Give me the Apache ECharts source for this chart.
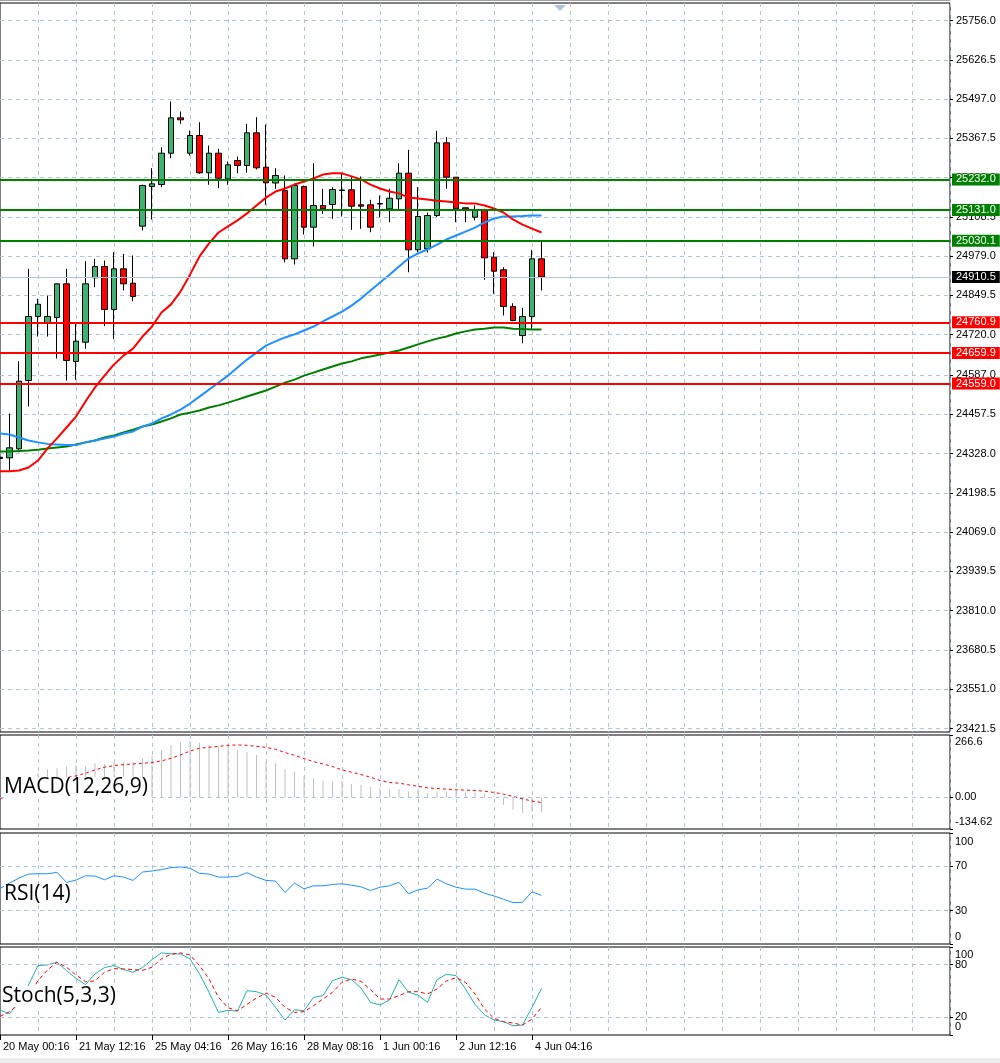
<!DOCTYPE html>
<html><head><meta charset="utf-8">
<script src="https://cdn.jsdelivr.net/npm/echarts@6/dist/echarts.min.js"></script>
<style>html,body{margin:0;padding:0;background:#fff}#c{width:1000px;height:1063px}</style>
</head><body><div id="c"></div>
<script>
// ---------- DATA (index 0 = partially visible bar before "20 May 00:16") ----------
const dateLabels = ['20 May 00:16','21 May 12:16','25 May 04:16','26 May 16:16','28 May 08:16','1 Jun 00:16','2 Jun 12:16','4 Jun 04:16'];
const yTickLabels = ['25756.0','25626.5','25497.0','25367.5','25238.0','25108.5','24979.0','24849.5','24720.0','24587.0','24457.5','24328.0','24198.5','24069.0','23939.5','23810.0','23680.5','23551.0','23421.5'];

const opens  = [24316,24314,24343.7,24568.9,24780,24757.9,24776.7,24887.8,24631.6,24695.2,24907.6,24944.8,24803,24937.2,24889.8,25077.7,25208.6,25215.2,25318.4,25435.1,25318.4,25376.8,25253.8,25318.4,25234,25294.3,25277.8,25385.7,25272.2,25220.1,25195.4,24970.2,25208.6,25074.4,25146,25149.3,25195.4,25197.7,25148.3,25148.3,25152.5,25135.1,25168,25252.5,24999.9,25003.2,25113,25352.7,25239.3,25138.4,25107.4,25129.5,24975.5,24933.9,24812.9,24717.3,24780,24970.2];
const closes = [24312,24347,24566.6,24780,24820.5,24780,24887.8,24634.9,24698.5,24887.8,24944.8,24803,24937.2,24887.8,24845.9,25211.9,25217.5,25318.4,25435.1,25428.5,25376.8,25253.8,25318.4,25236,25280.2,25277.8,25385.7,25270.3,25220.8,25244.9,24970.2,25211.9,25074.4,25146,25135.1,25198.7,25197,25143.7,25143.7,25074.4,25151,25170,25252.5,24999.9,25109.7,25113,25352.7,25239.3,25135.1,25133.8,25129.5,24973.5,24929.3,24812.9,24766.8,24780,24970.2,24910.5];
const highs  = [24322,24460,24632.6,24937.2,24838.3,24849.2,24888.8,24937.2,24757.9,24962.3,24970.2,24964.6,24992,24986.7,24981.1,25215.2,25268.9,25338.2,25488.9,25455.9,25393.3,25420.6,25343.8,25332.9,25291,25307.5,25415.3,25437.1,25413,25268.9,25244.9,25218.5,25211.9,25285.4,25201,25206.3,25250.5,25239.3,25241.6,25164.7,25178.9,25201,25285.4,25329.6,25206.3,25122.9,25392.3,25371.2,25239.3,25139.4,25146,25135.1,24992,24942.5,24823.8,24808.6,24999.9,25028.2];
const lows   = [24305,24272,24332.5,24483.2,24714,24714,24641.5,24568.9,24571.2,24673.4,24876.6,24748.6,24706.4,24865.7,24830.4,25063.5,25099.8,25206.3,25301.9,25415.3,25310.8,25250.5,25214.2,25203,25214.2,25252.5,25253.8,25264.7,25148.3,25201,24959,24951.4,25050.3,25010.8,25118.6,25102.1,25109.7,25065.8,25069.1,25057.9,25107.4,25090.9,25135.1,24926,24992,24991,25107.4,25201,25090.9,25090.9,25096.5,24901,24854.8,24783.3,24764.5,24691.9,24736.1,24865.7];

const maRed   = [24270,24270,24272,24282,24305,24345,24378,24414,24450,24500,24546,24585,24622,24651,24674,24714,24747,24793,24820,24862,24918,24978,25021,25057,25077,25097,25120,25146,25172,25192,25202,25215,25225,25235,25248,25252,25252,25242,25232,25215,25202,25192,25186,25172,25169,25166,25162,25159,25156,25153,25153,25146,25136,25123,25100,25083,25070,25057];
const maBlue  = [24394,24391,24381,24371,24365,24360,24358,24356,24356,24365,24371,24378,24384,24394,24401,24417,24427,24444,24457,24473,24493,24516,24539,24562,24585,24612,24638,24661,24684,24698,24711,24721,24734,24747,24764,24780,24796,24816,24839,24866,24892,24918,24945,24971,24988,25001,25017,25034,25047,25060,25073,25090,25103,25110,25110,25111,25113,25113];
const maGreen = [24335,24335,24336.5,24338,24341,24345,24348,24351,24358,24365,24371,24381,24388,24398,24407,24417,24424,24434,24444,24457,24463,24470,24480,24487,24496,24506,24516,24526,24536,24549,24562,24572,24585,24595,24605,24615,24625,24632,24642,24648,24655,24661,24668,24678,24688,24698,24707,24714,24724,24731,24737,24740,24744,24744,24740,24739,24737,24737];

const levelsGreen = [25232.0, 25131.0, 25030.1];
const levelsRed   = [24760.9, 24659.9, 24559.0];
const bidPrice    = 24910.5;

const macdHist   = [-3,8,30,62,103.5,120.5,124.8,131.9,137.5,134.7,146,143.2,148.9,150.3,150.3,167.3,177.3,202.8,224,235.4,242.5,234,224,217,219.8,200,192.8,181.5,153.1,146,120.5,110.6,89.3,82.2,72.3,68,72.3,56.7,53.9,44,39.7,35.5,35.5,25.5,35.5,18.4,25.5,25.5,25.5,21.3,21.3,15.6,7.1,-31.2,-52.5,-66.6,-59.6,-63.8];
const macdSignal = [-4,4,18,35,50,64,78,85,92,103.5,117.7,129,136,140,143,146,149,156,167,181.5,198.5,210,214,218,222.6,224,222.6,218,214,205.6,191.4,180,166,153,143,132,117.7,107.8,97.8,86.5,72.3,64,61,54,48,41,38,35.5,32.6,31.2,29.8,27,21.3,14.2,4.3,-5.7,-15.6,-21.3];
const macdTicks  = ['-134.62','0.00','266.6'];

const rsi = [50,54.9,59.4,63,63.3,63.3,64.5,55.5,57.6,61.5,61.2,57.9,61.5,60.3,57.3,64.8,65.8,67,68.8,69.4,68.2,63.6,63,60.3,60.3,60.9,64.2,60.3,57.3,56.7,46.4,54.9,49.7,52.4,52.4,53.6,54.2,53,51.5,48.2,51.2,52.4,55.5,45.2,48.8,50.3,58.5,54.2,51.2,49.4,49.4,45.8,43.3,40.3,37.3,37.6,47,43.9];
const rsiTicks = ['0','30','70','100'];

const stochMain   = [28.4,23.8,39,56.8,78.9,79.6,82.7,73.2,64.4,57.2,69.4,76.6,78.9,74.3,71.3,76.6,85.7,93.3,92.2,92.2,86.5,69.4,48.5,25.7,28,27.2,50.4,49.2,45.4,31.4,17,28.7,27.6,42.8,44.7,61.8,65.6,62.9,53.4,37.1,34.1,39.8,62.9,48.5,45.4,37.1,62.9,69,67.5,52.3,34.8,23,17,15.1,10.5,11.3,31.4,53];
const stochSignal = [21.1,26.5,34.8,44.7,61.8,73.9,82.7,77,68.2,60.6,61.4,71.3,75.4,75.1,74.3,73.5,77,86.5,91.8,93.3,91,78.9,63.7,42.8,31,27.6,34.8,42,47.7,42.8,31.4,25.7,26.5,33.3,40.9,48.5,59.9,63.7,61,51.5,40.9,40.9,44.7,49.2,49.2,46.6,52.3,61.4,65.2,59.9,46.6,29.5,18.9,15.1,13.6,11.3,18.1,31.4];
const stochTicksInner = ['20','80'];
const stochTicksOuter = ['0','100'];

// ---------- BUILD ----------
const SLOTS = 101; // visible bar slots including empty future area
const cats = Array.from({length: SLOTS}, (_, j) => (j % 8 === 0 && j / 8 < dateLabels.length) ? dateLabels[j / 8] : '');
const FONT = 'Liberation Sans';
const gridLine = {color: '#b0c4de', type: [4, 4], width: 1};
const LEFT = -2.2, RIGHT = 50;

function xAxisFor(gi, bottom) {
  return {
    type: 'category', gridIndex: gi, data: cats, boundaryGap: false,
    axisLine: {show: false},
    axisTick: bottom ? {show: true, interval: (j) => j % 8 === 0 && j / 8 < dateLabels.length, length: 5, lineStyle: {color: '#000'}} : {show: false},
    axisLabel: bottom ? {show: true, interval: 0, align: 'left', color: '#000', fontFamily: FONT, fontSize: 11, margin: 6, padding: [0, 0, 0, 3]} : {show: false},
    splitLine: {show: true, interval: (j) => j % 4 === 0 && j > 0, lineStyle: gridLine}
  };
}

function sideAxis(gi, min, max, tickStrs, padTop, padBot) {
  const vals = tickStrs.map(Number);
  return {
    type: 'value', gridIndex: gi, position: 'right', min: min, max: max,
    axisLine: {show: false},
    axisTick: {show: true, customValues: vals, length: 3, lineStyle: {color: '#000'}},
    axisLabel: {
      customValues: vals, margin: 5, color: '#000', fontFamily: FONT, fontSize: 11,
      hideOverlap: false, showMinLabel: true, showMaxLabel: true,
      formatter: (v) => {
        const k = vals.indexOf(v);
        const s = k >= 0 ? tickStrs[k] : String(v);
        if (v === max) return '{t|' + s + '}';
        if (v === min) return '{b|' + s + '}';
        return s;
      },
      rich: {
        t: {padding: [padTop, 0, 0, 0], color: '#000', fontFamily: FONT, fontSize: 11},
        b: {padding: [0, 0, padBot, 0], color: '#000', fontFamily: FONT, fontSize: 11}
      }
    },
    splitLine: {show: false}
  };
}

const hLines = (arr) => ({
  silent: true, symbol: ['none', 'none'], animation: false,
  label: {show: false}, lineStyle: gridLine,
  data: arr.map(v => ({yAxis: v}))
});

const levelLabel = {show: true, position: 'end', distance: 2, color: '#fff', fontFamily: FONT, fontSize: 11, padding: [1, 4, 0, 4], formatter: (p) => Number(p.value).toFixed(1)};
const levelData = []
  .concat(levelsGreen.map(v => ({yAxis: v, lineStyle: {color: '#008000', width: 2, type: 'solid'}, label: Object.assign({}, levelLabel, {backgroundColor: '#008000'})})))
  .concat(levelsRed.map(v => ({yAxis: v, lineStyle: {color: '#ff0000', width: 2, type: 'solid'}, label: Object.assign({}, levelLabel, {backgroundColor: '#ff0000'})})))
  .concat([{yAxis: bidPrice, lineStyle: {color: '#b0c4de', width: 1, type: 'solid'}, label: Object.assign({}, levelLabel, {backgroundColor: '#000'})}]);

const yMainVals = yTickLabels.map(Number);
const titleStyle = {fontFamily: 'Open Sans', fontSize: 21, fontWeight: 'normal', color: '#000'};

const option = {
  animation: false,
  backgroundColor: '#fff',
  title: [
    {text: 'MACD(12,26,9)', left: 4, top: 777, padding: 0, backgroundColor: '#fff', textStyle: titleStyle},
    {text: 'RSI(14)', left: 4, top: 884, padding: 0, backgroundColor: '#fff', textStyle: titleStyle},
    {text: 'Stoch(5,3,3)', left: 2, top: 986, padding: 0, backgroundColor: '#fff', textStyle: titleStyle}
  ],
  grid: [
    {left: LEFT, right: RIGHT, top: 3, height: 729, show: true, borderColor: '#000', borderWidth: 1, backgroundColor: '#fff'},
    {left: LEFT, right: RIGHT, top: 735, height: 94, show: true, borderColor: '#000', borderWidth: 1, backgroundColor: '#fff'},
    {left: LEFT, right: RIGHT, top: 833, height: 111, show: true, borderColor: '#000', borderWidth: 1, backgroundColor: '#fff'},
    {left: LEFT, right: RIGHT, top: 947, height: 88, show: true, borderColor: '#000', borderWidth: 1, backgroundColor: '#fff'}
  ],
  xAxis: [xAxisFor(0, false), xAxisFor(1, false), xAxisFor(2, false), xAxisFor(3, true)],
  yAxis: [
    {
      type: 'value', gridIndex: 0, position: 'right', min: 23410, max: 25813.7,
      axisLine: {show: false},
      axisTick: {show: true, customValues: yMainVals, length: 3, lineStyle: {color: '#000'}},
      axisLabel: {customValues: yMainVals, margin: 6, color: '#000', fontFamily: FONT, fontSize: 11, hideOverlap: false, formatter: (v) => v.toFixed(1)},
      splitLine: {show: true, lineStyle: gridLine}
    },
    sideAxis(1, -134.62, 266.6, macdTicks, 14, 14),
    sideAxis(2, 0, 100, rsiTicks, 18, 14),
    sideAxis(3, 0, 100, stochTicksInner, 16, 16),
    sideAxis(3, 0, 100, stochTicksOuter, 16, 16)
  ],
  series: [
    {
      type: 'candlestick', xAxisIndex: 0, yAxisIndex: 0, barWidth: 6, z: 2,
      data: opens.map((o, k) => [o, closes[k], lows[k], highs[k]]),
      itemStyle: {color: '#3cb371', color0: '#ff0000', borderColor: '#000', borderColor0: '#000', borderWidth: 1}
    },
    {type: 'line', xAxisIndex: 0, yAxisIndex: 0, data: maGreen, showSymbol: false, z: 3, lineStyle: {color: '#008000', width: 2}},
    {type: 'line', xAxisIndex: 0, yAxisIndex: 0, data: maBlue, showSymbol: false, z: 3, lineStyle: {color: '#1e90ff', width: 2}},
    {type: 'line', xAxisIndex: 0, yAxisIndex: 0, data: maRed, showSymbol: false, z: 3, lineStyle: {color: '#ff0000', width: 2}},
    {type: 'line', xAxisIndex: 0, yAxisIndex: 0, data: [], z: 4,
     markLine: {silent: true, symbol: ['none', 'none'], animation: false, data: levelData}},
    {type: 'bar', xAxisIndex: 1, yAxisIndex: 1, data: macdHist, barWidth: 1, itemStyle: {color: '#c0c0c0'},
     markLine: hLines([0])},
    {type: 'line', xAxisIndex: 1, yAxisIndex: 1, data: macdSignal, showSymbol: false, lineStyle: {color: '#ff0000', width: 1, type: [3, 3]}},
    {type: 'line', xAxisIndex: 2, yAxisIndex: 2, data: rsi, showSymbol: false, lineStyle: {color: '#1e90ff', width: 1},
     markLine: hLines([30, 70])},
    {type: 'line', xAxisIndex: 3, yAxisIndex: 3, data: stochMain, showSymbol: false, lineStyle: {color: '#20b2aa', width: 1},
     markLine: hLines([20, 80])},
    {type: 'line', xAxisIndex: 3, yAxisIndex: 3, data: stochSignal, showSymbol: false, lineStyle: {color: '#ff0000', width: 1, type: [4, 3]}}
  ],
  graphic: [
    {type: 'rect', shape: {x: 0, y: 0, width: 950, height: 1}, style: {fill: '#a0a0a0'}, silent: true},
    {type: 'polygon', shape: {points: [[554, 5], [566, 5], [560, 11]]}, style: {fill: '#b0c4de'}, silent: true},
    {type: 'rect', shape: {x: 0, y: 1058, width: 1000, height: 5}, style: {fill: '#ececec'}, silent: true}
  ]
};

const chart = echarts.init(document.getElementById('c'), null, {renderer: 'canvas'});
chart.setOption(option);
</script>
</body></html>
